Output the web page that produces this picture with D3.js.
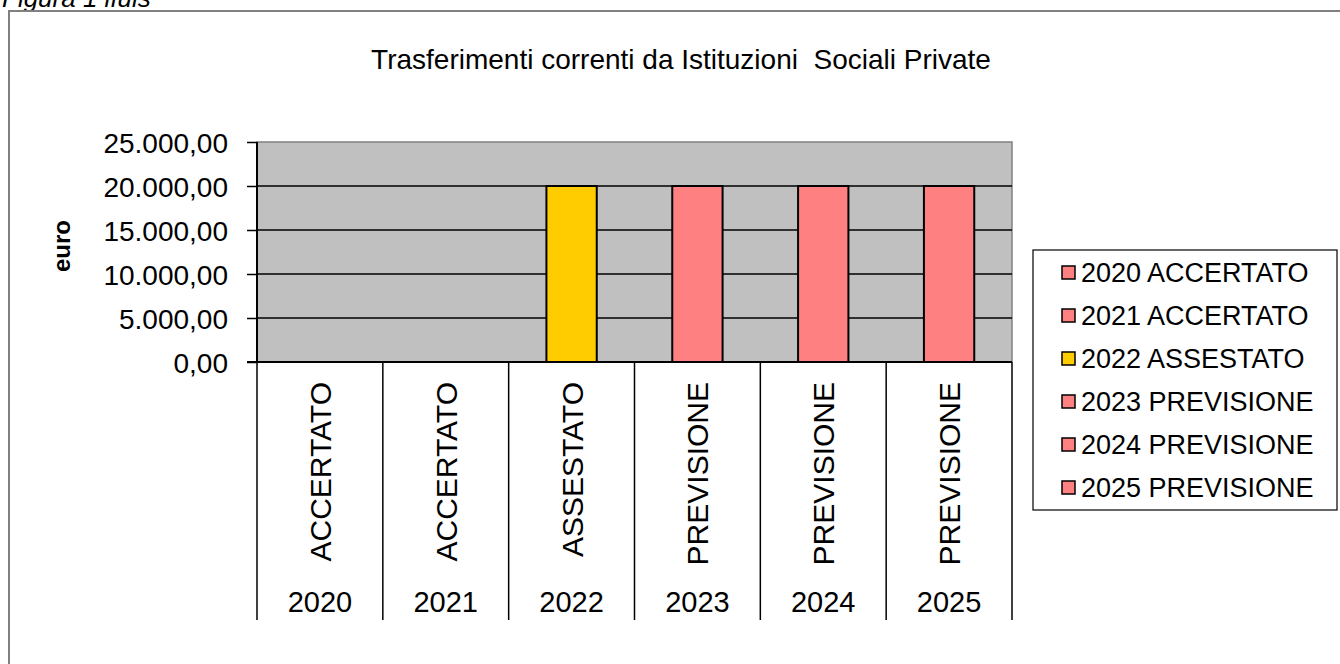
<!DOCTYPE html>
<html>
<head>
<meta charset="utf-8">
<script src="https://cdn.jsdelivr.net/npm/d3@7"></script>
<style>
  body { margin: 0; background: #fff; }
  svg text { font-family: "Liberation Sans", Arial, sans-serif; fill: #000; }
</style>
</head>
<body>
<svg id="chart" width="1340" height="664"></svg>
<script>
/* ******************** data ************************* */
var years = ["2020", "2021", "2022", "2023", "2024", "2025"];
var phases = ["ACCERTATO", "ACCERTATO", "ASSESTATO", "PREVISIONE", "PREVISIONE", "PREVISIONE"];
var values = [0, 0, 20000, 20000, 20000, 20000];
var barColors = ["#ff8080", "#ff8080", "#ffcc00", "#ff8080", "#ff8080", "#ff8080"];
var yTicks = [0, 5000, 10000, 15000, 20000, 25000];

var chartTitle = "Trasferimenti correnti da Istituzioni  Sociali Private";

/* ******************** settings ************************* */
var svg = d3.select("#chart");
var plot = {left: 257, right: 1012, top: 142, bottom: 362};
var catBottom = 620;

var xScale = d3.scaleBand().domain(years).range([plot.left, plot.right]).padding(0);
var yScale = d3.scaleLinear().domain([0, 25000]).range([plot.bottom, plot.top]);

// italian number format: 25.000,00
var itFormat = d3.formatLocale({decimal: ",", thousands: ".", grouping: [3], currency: ["€", ""]}).format(",.2f");

// outer frame + caption (partly above the page edge, as in the source)
svg.append("text")
   .attr("x", 2).attr("y", 7)
   .style("font-size", "26px").style("font-style", "italic")
   .text("Figura 1 ifuls");

svg.append("rect")
   .attr("x", 9).attr("y", 11)
   .attr("width", 1340).attr("height", 700)
   .attr("fill", "none").attr("stroke", "#808080").attr("stroke-width", 2);

// title
svg.append("text")
   .attr("x", 681).attr("y", 69)
   .attr("text-anchor", "middle")
   .style("font-size", "28px")
   .attr("xml:space", "preserve")
   .text(chartTitle);

// plot background
svg.append("rect")
   .attr("x", plot.left).attr("y", plot.top)
   .attr("width", plot.right - plot.left).attr("height", plot.bottom - plot.top)
   .attr("fill", "#c0c0c0").attr("stroke", "#808080").attr("stroke-width", 1.5);

// gridlines
svg.append("g")
   .selectAll("line")
   .data(yTicks.filter(function(d) { return d > 0 && d < 25000; }))
   .enter().append("line")
     .attr("x1", plot.left).attr("x2", plot.right)
     .attr("y1", function(d) { return yScale(d); })
     .attr("y2", function(d) { return yScale(d); })
     .attr("stroke", "#000").attr("stroke-width", 1.5);

// bars
var barW = xScale.bandwidth() * 0.4;
svg.append("g")
   .selectAll("rect")
   .data(values)
   .enter().append("rect")
     .attr("x", function(d, i) { return xScale(years[i]) + xScale.bandwidth() / 2 - barW / 2; })
     .attr("y", function(d) { return yScale(d); })
     .attr("width", barW)
     .attr("height", function(d) { return plot.bottom - yScale(d); })
     .attr("fill", function(d, i) { return barColors[i]; })
     .attr("stroke", function(d) { return d > 0 ? "#000" : "none"; })
     .attr("stroke-width", 2);

// y axis
var yAxis = svg.append("g")
   .attr("transform", "translate(" + plot.left + ",0)")
   .call(d3.axisLeft(yScale).tickValues(yTicks).tickSize(10).tickPadding(19).tickFormat(itFormat));
yAxis.select(".domain").attr("stroke", "#000").attr("stroke-width", 2).attr("d", "M0," + plot.top + "V" + plot.bottom);
yAxis.selectAll(".tick line").attr("stroke", "#000").attr("stroke-width", 1.5);
yAxis.selectAll(".tick text").style("font-size", "28px").attr("dy", "0.36em");

// y axis title
svg.append("text")
   .attr("transform", "translate(70,246) rotate(-90)")
   .attr("text-anchor", "middle")
   .style("font-size", "24px").style("font-weight", "bold")
   .text("euro");

// x axis line
svg.append("line")
   .attr("x1", plot.left - 10).attr("x2", plot.right)
   .attr("y1", plot.bottom).attr("y2", plot.bottom)
   .attr("stroke", "#000").attr("stroke-width", 2);

// category separators
var seps = years.map(function(d) { return xScale(d); }).concat([plot.right]);
svg.append("g")
   .selectAll("line")
   .data(seps)
   .enter().append("line")
     .attr("x1", function(d) { return d; }).attr("x2", function(d) { return d; })
     .attr("y1", plot.bottom).attr("y2", catBottom)
     .attr("stroke", "#000").attr("stroke-width", 1.5);

// phase labels (rotated)
svg.append("g")
   .selectAll("text")
   .data(phases)
   .enter().append("text")
     .attr("transform", function(d, i) {
        return "translate(" + (xScale(years[i]) + xScale.bandwidth() / 2 + 11) + ",382) rotate(-90)";
     })
     .attr("text-anchor", "end")
     .style("font-size", "30px")
     .text(function(d) { return d; });

// year labels
svg.append("g")
   .selectAll("text")
   .data(years)
   .enter().append("text")
     .attr("x", function(d) { return xScale(d) + xScale.bandwidth() / 2; })
     .attr("y", 612)
     .attr("text-anchor", "middle")
     .style("font-size", "29px")
     .text(function(d) { return d; });

// legend
var legend = {x: 1033, y: 250, w: 304, h: 260, rowH: 43};
svg.append("rect")
   .attr("x", legend.x).attr("y", legend.y)
   .attr("width", legend.w).attr("height", legend.h)
   .attr("fill", "#fff").attr("stroke", "#000").attr("stroke-width", 1.2);

var legendRows = svg.append("g")
   .selectAll("g")
   .data(years)
   .enter().append("g")
     .attr("transform", function(d, i) { return "translate(" + (legend.x + 29) + "," + (legend.y + 22 + i * legend.rowH) + ")"; });

legendRows.append("rect")
   .attr("x", 0).attr("y", -6)
   .attr("width", 13).attr("height", 13)
   .attr("fill", function(d, i) { return barColors[i]; })
   .attr("stroke", "#000").attr("stroke-width", 1.5);

legendRows.append("text")
   .attr("x", 19).attr("y", 10)
   .style("font-size", "27px")
   .text(function(d, i) { return d + " " + phases[i]; });
</script>
</body>
</html>
